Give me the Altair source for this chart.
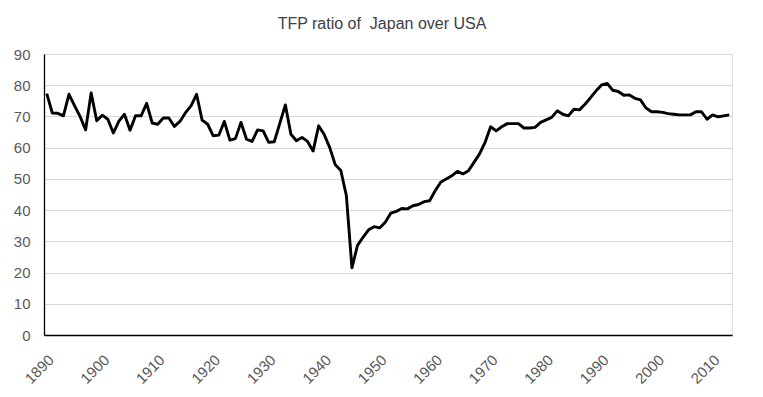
import altair as alt
import pandas as pd

years = list(range(1890, 2014))
tfp_ratio = [
    77.3, 71.1, 71.0, 70.2, 77.1, 73.5, 70.0, 65.7, 77.5, 68.6,   # 1890-1899
    70.4, 69.1, 64.7, 68.5, 70.7, 65.6, 70.2, 70.2, 74.2, 67.9,   # 1900-1909
    67.5, 69.5, 69.5, 66.8, 68.4, 71.2, 73.4, 77.1, 68.8, 67.5,   # 1910-1919
    63.8, 64.0, 68.4, 62.4, 62.9, 68.1, 62.7, 62.0, 65.7, 65.4,   # 1920-1929
    61.7, 61.9, 67.8, 73.7, 64.3, 62.2, 63.3, 62.0, 58.9, 67.0,   # 1930-1939
    64.2, 60.0, 54.5, 52.7, 44.6, 21.5, 28.7, 31.3, 33.7, 34.7,   # 1940-1949
    34.3, 36.1, 39.0, 39.6, 40.5, 40.4, 41.4, 41.8, 42.7, 43.0,   # 1950-1959
    46.2, 48.9, 50.0, 51.0, 52.4, 51.6, 52.6, 55.3, 58.0, 61.7,   # 1960-1969
    66.7, 65.4, 66.7, 67.7, 67.7, 67.7, 66.3, 66.3, 66.5, 68.1,   # 1970-1979
    68.9, 69.7, 71.8, 70.7, 70.2, 72.3, 72.1, 73.9, 76.0, 78.2,   # 1980-1989
    80.1, 80.6, 78.4, 78.0, 76.8, 76.9, 75.8, 75.3, 72.7, 71.5,   # 1990-1999
    71.5, 71.3, 70.9, 70.7, 70.5, 70.5, 70.5, 71.5, 71.5, 69.1,   # 2000-2009
    70.5, 69.9, 70.2, 70.5,                                       # 2010-2013
]
x_ticks = list(range(1890, 2011, 10))
y_ticks = list(range(0, 91, 10))
title_text = "TFP ratio of\u00a0 Japan over USA"

df = pd.DataFrame({"year": years, "ratio": tfp_ratio})

FONT = "Liberation Sans"

chart = (
    alt.Chart(df)
    .mark_line(color="black", strokeWidth=2.9, strokeJoin="round")
    .encode(
        x=alt.X(
            "year:Q",
            scale=alt.Scale(domain=[1889.5, 2013.5], nice=False, zero=False),
            axis=alt.Axis(
                values=x_ticks,
                format="d",
                title=None,
                labelAngle=-45,
                labelAlign="right",
                labelBaseline="middle",
                labelPadding=22,
                labelOffset=4,
                ticks=False,
                grid=False,
                domainColor="black",
                domainWidth=1.3,
                labelColor="#595959",
                labelFontSize=15,
                labelFont=FONT,
                labelFlush=False,
                labelOverlap=False,
            ),
        ),
        y=alt.Y(
            "ratio:Q",
            scale=alt.Scale(domain=[0, 90], nice=False),
            axis=alt.Axis(
                values=y_ticks,
                title=None,
                ticks=False,
                grid=True,
                gridColor="#d9d9d9",
                gridWidth=1,
                domainColor="black",
                domainWidth=1.3,
                labelColor="#595959",
                labelFontSize=15,
                labelFont=FONT,
                labelPadding=14,
                labelFlush=False,
            ),
        ),
    )
    .properties(
        width=688,
        height=281,
        autosize=alt.AutoSizeParams(type="none"),
        padding={"left": 36, "top": 46, "right": 20, "bottom": 54},
        title=alt.TitleParams(
            text=title_text,
            font=FONT,
            fontSize=16,
            fontWeight="normal",
            color="#404040",
            anchor="middle",
            offset=15,
            dx=-6,
        ),
    )
    .configure_view(stroke=None)
    .configure(background="white")
)

chart.save("out.html", embed_options={"renderer": "svg", "actions": False})
